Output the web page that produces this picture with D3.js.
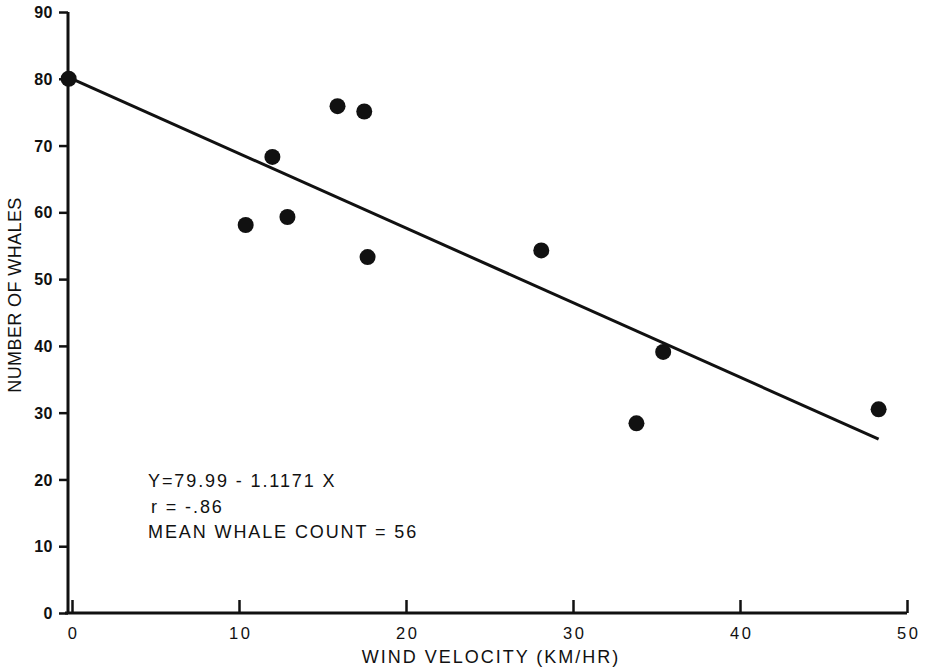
<!DOCTYPE html>
<html>
<head>
<meta charset="utf-8">
<script src="https://cdnjs.cloudflare.com/ajax/libs/d3/7.8.5/d3.min.js"></script>
<style>
  body { margin: 0; background: #fff; }
  text { font-family: "Liberation Sans", Arial, sans-serif; fill: #111; }
</style>
</head>
<body>
<div id="chart"></div>
<script>
// wind velocity (km/hr) vs whale count
const windVelocity = [-0.2, 10.4, 12.0, 12.9, 15.9, 17.5, 17.7, 28.1, 35.4, 33.8, 48.3];
const whaleCount   = [80.0, 58.1, 68.3, 59.3, 75.9, 75.1, 53.3, 54.3, 39.1, 28.4, 30.5];
const xTicks = [0, 10, 20, 30, 40, 50];
const yTicks = [0, 10, 20, 30, 40, 50, 60, 70, 80, 90];
const fitIntercept = 79.99, fitSlope = -1.1171;
const fitRange = [0, 48.3];
const notes = ["Y=79.99 - 1.1171 X", "r = -.86", "MEAN WHALE COUNT = 56"];

const width = 925, height = 669;
const margin = {top: 12, right: 18, bottom: 56, left: 68};

const svg = d3.select("#chart").append("svg")
    .attr("width", width)
    .attr("height", height);

const x = d3.scaleLinear().domain([0, 50]).range([margin.left + 4, width - margin.right]);
const y = d3.scaleLinear().domain([0, 90]).range([height - margin.bottom, margin.top]);

// y axis, ticks outside
const yAxis = svg.append("g")
    .attr("transform", "translate(" + margin.left + ",0)")
    .call(d3.axisLeft(y).tickValues(yTicks).tickSize(9).tickPadding(6));
yAxis.select(".domain").attr("d", "M0," + y(90) + "V" + y(0)).attr("stroke", "#111").attr("stroke-width", 3);
yAxis.selectAll(".tick line").attr("stroke", "#111").attr("stroke-width", 2.5);
yAxis.selectAll(".tick text")
    .style("font-size", "16px").style("font-weight", "bold")
    .style("letter-spacing", "0.5px")
    .attr("dy", "0.35em");

// x axis, ticks pointing up
const xAxis = svg.append("g")
    .attr("transform", "translate(0," + y(0) + ")")
    .call(d3.axisBottom(x).tickValues(xTicks).tickSize(0).tickPadding(14));
xAxis.select(".domain").attr("d", "M" + (margin.left - 3) + ",0H" + x(50)).attr("stroke", "#111").attr("stroke-width", 3);
xAxis.selectAll(".tick line").attr("y2", -13).attr("stroke", "#111").attr("stroke-width", 2.5);
xAxis.selectAll(".tick text")
    .style("font-size", "16.5px")
    .style("letter-spacing", "2.5px")
    .attr("dx", "1.2px");

// axis titles
svg.append("text")
    .attr("x", 491)
    .attr("y", 663)
    .attr("text-anchor", "middle")
    .style("font-size", "18px")
    .style("letter-spacing", "2px")
    .text("WIND VELOCITY (KM/HR)");

svg.append("text")
    .attr("transform", "translate(21," + 295 + ") rotate(-90)")
    .attr("text-anchor", "middle")
    .style("font-size", "18px")
    .style("letter-spacing", "0.4px")
    .text("NUMBER OF WHALES");

// regression line
svg.append("line")
    .attr("x1", x(fitRange[0])).attr("y1", y(fitIntercept + fitSlope * fitRange[0]))
    .attr("x2", x(fitRange[1])).attr("y2", y(fitIntercept + fitSlope * fitRange[1]))
    .attr("stroke", "#111")
    .attr("stroke-width", 3);

// points
svg.selectAll(".dot")
    .data(windVelocity.map((d, i) => ({v: d, n: whaleCount[i]})))
    .enter().append("circle")
    .attr("class", "dot")
    .attr("cx", d => x(d.v))
    .attr("cy", d => y(d.n))
    .attr("r", 8)
    .attr("fill", "#111");

// equation notes
svg.selectAll(".note")
    .data(notes)
    .enter().append("text")
    .attr("class", "note")
    .attr("x", (d, i) => i === 1 ? 151 : 148)
    .attr("y", (d, i) => 487 + i * 25.5)
    .style("font-size", "18px")
    .style("letter-spacing", "1.9px")
    .text(d => d);
</script>
</body>
</html>
